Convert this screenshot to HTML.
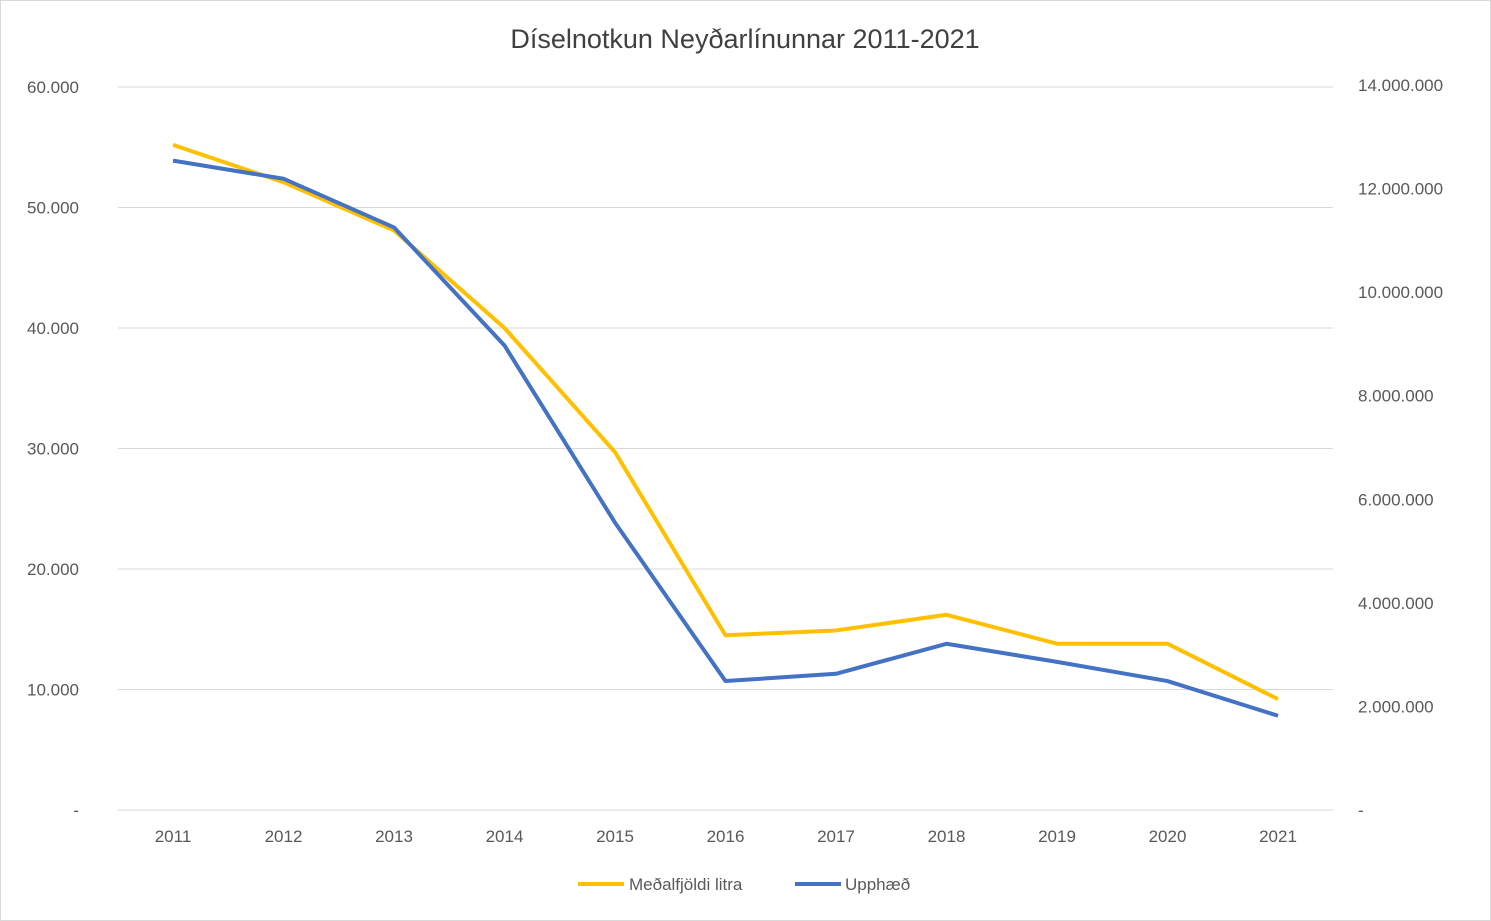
<!DOCTYPE html>
<html><head><meta charset="utf-8"><style>
html,body{margin:0;padding:0;background:#fff}
svg{display:block;font-family:"Liberation Sans",sans-serif}
</style></head><body>
<svg id="chart" width="1491" height="921" viewBox="0 0 1491 921">
<rect x="0.5" y="0.5" width="1490" height="920" fill="#fff" stroke="#d9d9d9"/>
<text x="745" y="48" text-anchor="middle" font-size="27" fill="#404040">Díselnotkun Neyðarlínunnar 2011-2021</text>
<g id="grid"></g><g id="axes"></g><g id="series"></g>
<g>
<line x1="578" y1="884" x2="624" y2="884" stroke="#FFC000" stroke-width="4"/>
<text x="629" y="890" font-size="17" fill="#595959">Meðalfjöldi litra</text>
<line x1="795" y1="884" x2="841" y2="884" stroke="#4472C4" stroke-width="4"/>
<text x="845" y="890" font-size="17" fill="#595959">Upphæð</text>
</g>
</svg>
<script>
const years = ['2011','2012','2013','2014','2015','2016','2017','2018','2019','2020','2021'];
const litrar = [55200,52100,48100,40000,29700,14500,14900,16200,13800,13800,9200];
const upphaed = [12540000,12190000,11250000,8970000,5550000,2490000,2630000,3210000,2860000,2490000,1820000];
const leftTicks = [0,10000,20000,30000,40000,50000,60000];
const leftLabels = ['-','10.000','20.000','30.000','40.000','50.000','60.000'];
const rightTicks = [0,2000000,4000000,6000000,8000000,10000000,12000000,14000000];
const rightLabels = ['-','2.000.000','4.000.000','6.000.000','8.000.000','10.000.000','12.000.000','14.000.000'];
const NS='http://www.w3.org/2000/svg';
const x0=173,dx=110.5,yB=810;
const xS=i=>x0+i*dx;
const yL=v=>yB-v*(723/60000);
const yR=v=>yB-v*(725/14000000);
function mk(t,a,p){const e=document.createElementNS(NS,t);for(const k in a)e.setAttribute(k,a[k]);p.appendChild(e);return e;}
const grid=document.getElementById('grid'),axes=document.getElementById('axes'),ser=document.getElementById('series');
leftTicks.forEach((v,i)=>{
 const l=mk('line',{x1:118,x2:1333,y1:yL(v),y2:yL(v),stroke:'#d9d9d9','stroke-width':1},grid);
 
 
 const t=mk('text',{x:79,y:yL(v)+6,'text-anchor':'end','font-size':17,fill:'#595959'},axes);
 t.textContent=leftLabels[i];
 
 
});
rightTicks.forEach((v,i)=>{
 const t=mk('text',{x:1358,y:yR(v)+6,'font-size':17,fill:'#595959'},axes);
 t.textContent=rightLabels[i];
 
 
});
years.forEach((y,i)=>{
 const t=mk('text',{x:xS(i),y:842,'text-anchor':'middle','font-size':17,fill:'#595959'},axes);
 t.textContent=y;
 
 
});
const p1=mk('polyline',{points:litrar.map((v,i)=>xS(i)+','+yL(v)).join(' '),fill:'none',stroke:'#FFC000','stroke-width':4,'stroke-linejoin':'round'},ser);


const p2=mk('polyline',{points:upphaed.map((v,i)=>xS(i)+','+yR(v)).join(' '),fill:'none',stroke:'#4472C4','stroke-width':4,'stroke-linejoin':'round'},ser);


</script>
</body></html>
